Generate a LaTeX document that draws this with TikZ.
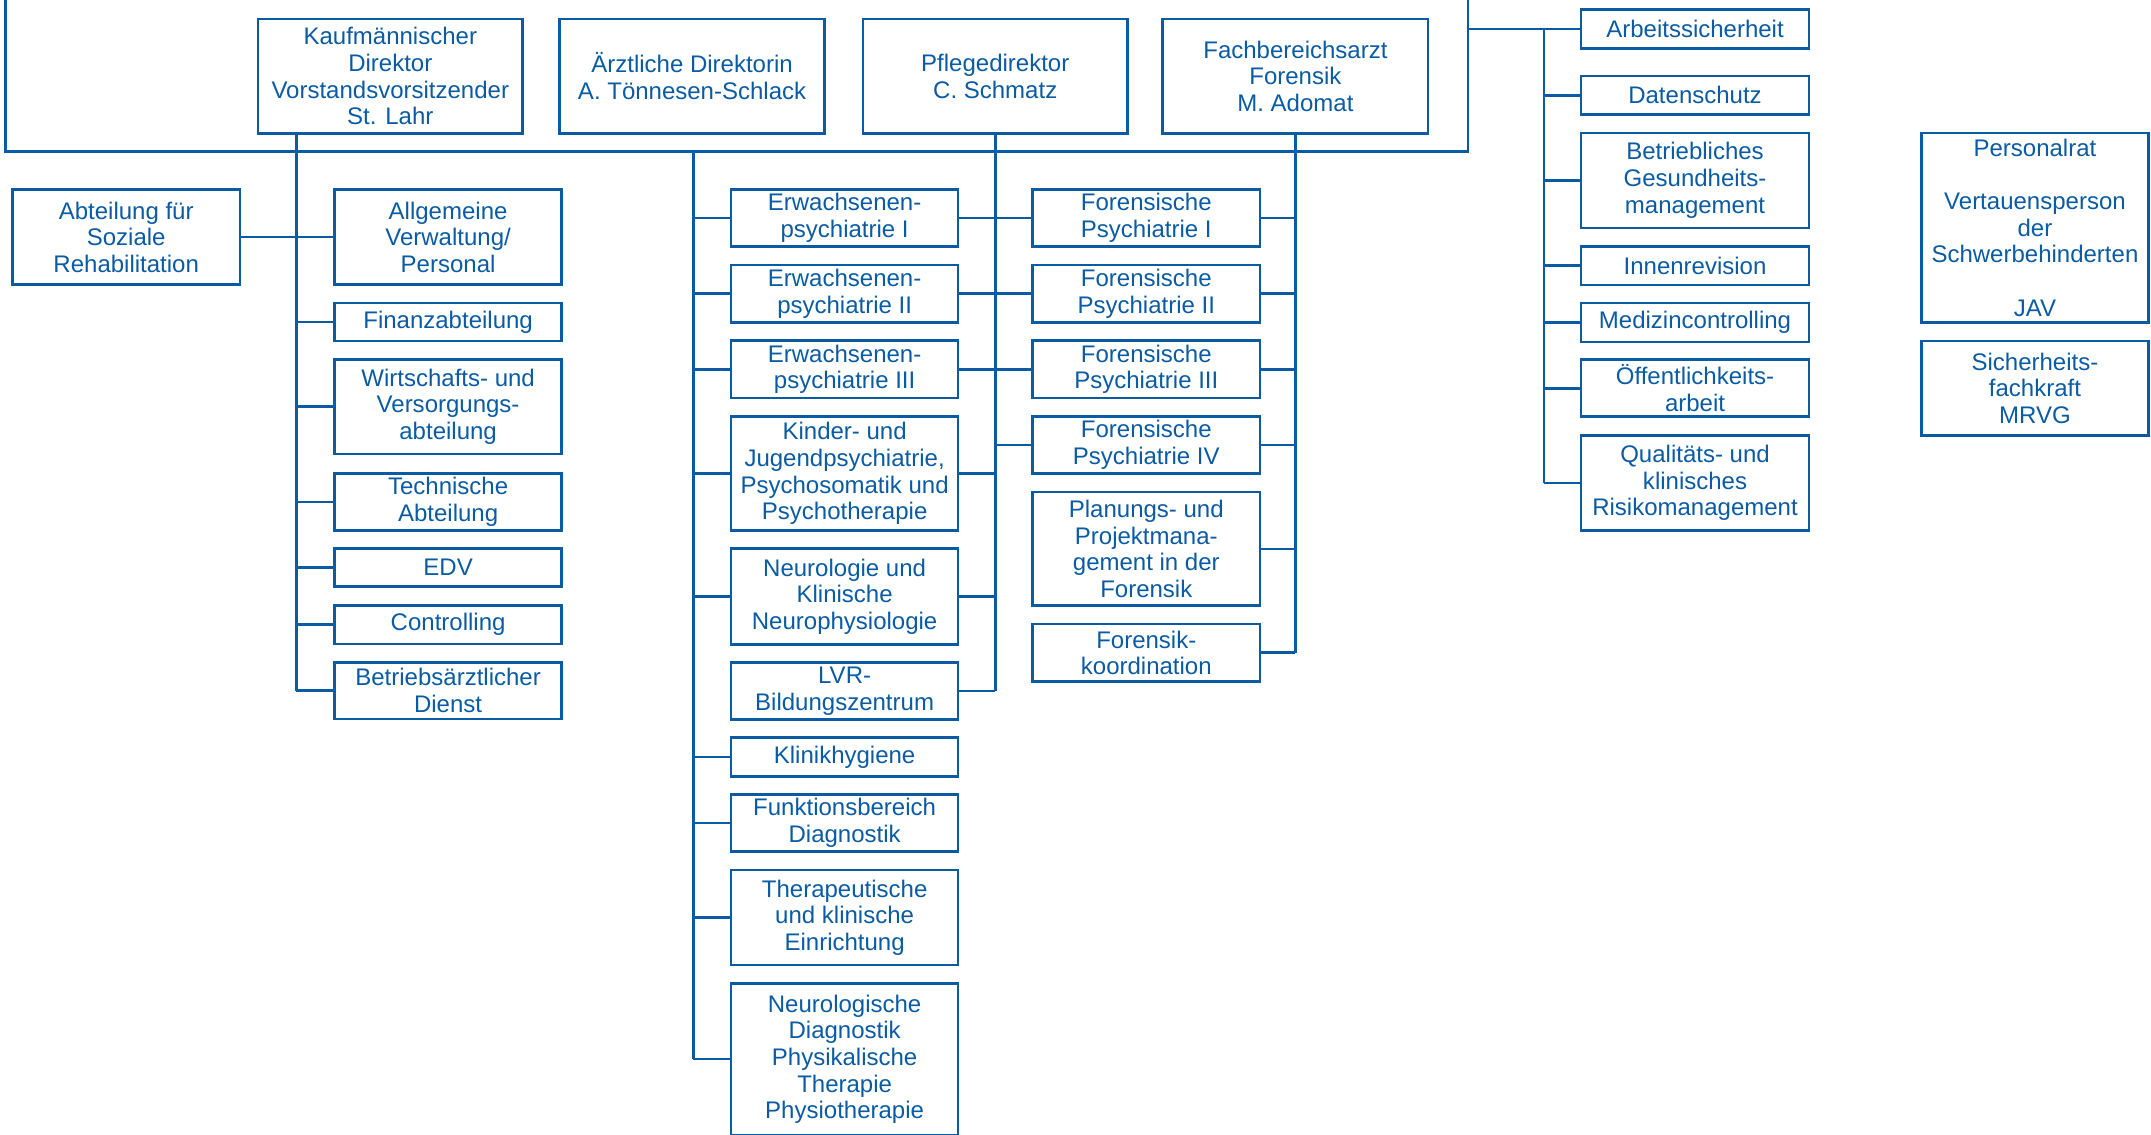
\documentclass[tikz,border=0pt]{standalone}
\usepackage{fontspec}
\setmainfont{Liberation Sans}
\definecolor{lvr}{HTML}{0A5BA3}
\tikzset{
  box/.style={draw=lvr, line width=1.9pt, text=lvr, align=center, inner sep=0pt, outer sep=0pt,
    font=\fontsize{17.5pt}{19.4pt}\selectfont},
  link/.style={draw=lvr, line width=1.9pt, line join=miter}
}
\newcommand\bx[6]{%
  \pgfmathsetmacro\bw{#4-#2}\pgfmathsetmacro\bh{#5-#3}%
  \pgfmathsetmacro\bcx{(#2+#4)/2}\pgfmathsetmacro\bcy{-(#3+#5)/2}%
  \node[box, minimum width=\bw pt, minimum height=\bh pt] (#1) at (\bcx pt,\bcy pt) {#6};}
\begin{document}
\begin{tikzpicture}[x=1pt,y=1pt]
\useasboundingbox (0,0) rectangle (1568,-827);
\clip (0,0) rectangle (1568,-827);
% top row
\bx{kauf}{188}{13.9}{381}{97.2}{Kaufmännischer\\Direktor\\Vorstandsvorsitzender\\St. Lahr}
\bx{aerzt}{408}{13.9}{601}{97.2}{Ärztliche Direktorin\\A. Tönnesen-Schlack}
\bx{pflege}{629}{13.9}{822}{97.2}{Pflegedirektor\\C. Schmatz}
\bx{fachb}{847.6}{13.9}{1041}{97.2}{Fachbereichsarzt\\Forensik\\M. Adomat}
% left column
\bx{abt}{9}{138.2}{175}{207.5}{Abteilung für\\Soziale\\Rehabilitation}
\bx{allg}{244}{138.2}{409.3}{207.5}{Allgemeine\\Verwaltung/\\Personal}
\bx{fin}{244}{221}{409.3}{248.6}{Finanzabteilung}
\bx{wirt}{244}{262}{409.3}{331}{Wirtschafts- und\\Versorgungs-\\abteilung}
\bx{tech}{244}{345}{409.3}{386.6}{Technische\\Abteilung}
\bx{edv}{244}{400}{409.3}{427.7}{EDV}
\bx{contr}{244}{441.3}{409.3}{469.5}{Controlling}
\bx{bad}{244}{483}{409.3}{524}{Betriebsärztlicher\\Dienst}
% middle-left column
\bx{erw1}{533}{138.2}{698.4}{179.6}{Erwachsenen-\\psychiatrie I}
\bx{erw2}{533}{193.2}{698.4}{235.1}{Erwachsenen-\\psychiatrie II}
\bx{erw3}{533}{248.4}{698.4}{290}{Erwachsenen-\\psychiatrie III}
\bx{kjp}{533}{303.6}{698.4}{386.9}{Kinder- und\\Jugendpsychiatrie,\\Psychosomatik und\\Psychotherapie}
\bx{neuro}{533}{400}{698.4}{469.7}{Neurologie und\\Klinische\\Neurophysiologie}
\bx{lvr}{533}{483}{698.4}{524.4}{LVR-\\Bildungszentrum}
\bx{klin}{533}{537.7}{698.4}{565.9}{Klinikhygiene}
\bx{funk}{533}{579}{698.4}{620.9}{Funktionsbereich\\Diagnostik}
\bx{ther}{533}{634.2}{698.4}{703.5}{Therapeutische\\und klinische\\Einrichtung}
\bx{ndiag}{533}{716.8}{698.4}{827.4}{Neurologische\\Diagnostik\\Physikalische\\Therapie\\Physiotherapie}
% middle-right column
\bx{for1}{752.7}{138.2}{918.5}{179.6}{Forensische\\Psychiatrie I}
\bx{for2}{752.7}{193.2}{918.5}{235.1}{Forensische\\Psychiatrie II}
\bx{for3}{752.7}{248.4}{918.5}{290}{Forensische\\Psychiatrie III}
\bx{for4}{752.7}{303.6}{918.5}{345.2}{Forensische\\Psychiatrie IV}
\bx{plan}{752.7}{358.7}{918.5}{441.6}{Planungs- und\\Projektmana-\\gement in der\\Forensik}
\bx{fkoord}{752.7}{455}{918.5}{496.7}{Forensik-\\koordination}
% right column
\bx{arb}{1152.5}{7}{1318.7}{35.2}{Arbeitssicherheit}
\bx{dat}{1152.5}{55.4}{1318.7}{83.6}{Datenschutz}
\bx{bgm}{1152.5}{96.9}{1318.7}{166.1}{Betriebliches\\Gesundheits-\\management}
\bx{inn}{1152.5}{179.6}{1318.7}{207.8}{Innenrevision}
\bx{med}{1152.5}{221}{1318.7}{249.2}{Medizincontrolling}
\bx{oeff}{1152.5}{262.2}{1318.7}{303.8}{Öffentlichkeits-\\arbeit}
\bx{qual}{1152.5}{317.4}{1318.7}{386.6}{Qualitäts- und\\klinisches\\Risikomanagement}
% far right
\bx{prat}{1400.5}{96.9}{1566.3}{235.1}{Personalrat\\\mbox{}\\Vertauensperson\\der\\Schwerbehinderten\\\mbox{}\\JAV}
\bx{sfk}{1400.5}{248.6}{1566.3}{317.6}{Sicherheits-\\fachkraft\\MRVG}
% frame
\coordinate (ftl) at (4,6);
\coordinate (fbl) at (4,-110.6);
\coordinate (fbr) at (1070,-110.6);
\coordinate (ftr) at (1070,6);
\draw[link] (ftl) -- (fbl) -- (fbr) -- (ftr);
% Kaufm trunk
\coordinate (kt) at (216,0);
\draw[link] (kauf.south -| kt) -- (bad.west -| kt);
\draw[link] (abt.east) -- (allg.west);
\foreach \n in {fin,wirt,tech,edv,contr,bad} \draw[link] (\n.west) -- (\n.west -| kt);
% Aerztliche trunk
\coordinate (at) at (505.4,-110.6);
\draw[link] (at) -- (ndiag.west -| at);
\foreach \n in {erw1,erw2,erw3,kjp,neuro,klin,funk,ther,ndiag} \draw[link] (\n.west) -- (\n.west -| at);
% Pflege trunk
\draw[link] (pflege.south) -- (lvr.east -| pflege.south);
\foreach \n in {erw1,erw2,erw3,kjp,neuro,lvr} \draw[link] (\n.east) -- (\n.east -| pflege.south);
\foreach \n in {for1,for2,for3,for4} \draw[link] (\n.west) -- (\n.west -| pflege.south);
% Fachbereich trunk
\draw[link] (fachb.south) -- (fkoord.east -| fachb.south);
\foreach \n in {for1,for2,for3,for4,plan,fkoord} \draw[link] (\n.east) -- (\n.east -| fachb.south);
% right staff units
\coordinate (rt) at (1125.4,0);
\draw[link] (arb.west -| ftr) -- (arb.west);
\draw[link] (arb.west -| rt) -- (qual.west -| rt);
\foreach \n in {dat,bgm,inn,med,oeff,qual} \draw[link] (\n.west) -- (\n.west -| rt);
\end{tikzpicture}
\end{document}
